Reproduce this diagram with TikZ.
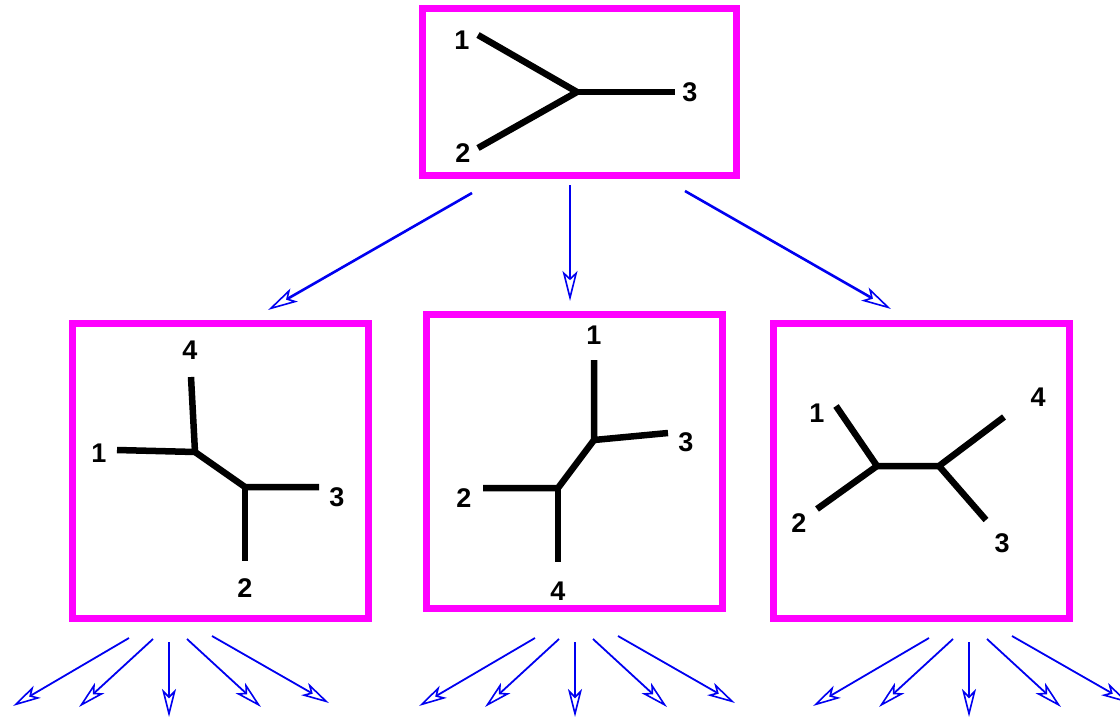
\documentclass[tikz,border=0pt]{standalone}
\usepackage{fontspec}
\setmainfont{Liberation Sans}
\usepackage{xcolor}
\usepackage{tikz}
\usetikzlibrary{arrows.meta,positioning,calc}

\definecolor{boxpink}{RGB}{255,0,255}
\definecolor{arrowblue}{RGB}{0,0,240}

\begin{document}
\begin{tikzpicture}[x=1pt,y=-1pt,
  treebox/.style={draw=boxpink,line width=7pt,rectangle,inner sep=0pt},
  branch/.style={draw=black,line width=6.5pt,line join=miter},
  leaf/.style={font=\fontsize{27}{32}\selectfont\bfseries},
  split/.style={draw=arrowblue,line width=2.6pt,-{Stealth[open,length=30pt,width=15pt,inset=7pt,line width=1.6pt]}},
  fan/.style={draw=arrowblue,line width=1.8pt,-{Stealth[open,length=28pt,width=14pt,inset=7pt,line width=1.6pt]}}]
\tikzstyle{every node}+=[inner sep=0pt]
\useasboundingbox (0,0) rectangle (1120,718);

% boxes
\node [treebox,minimum width=314pt,minimum height=166.5pt] (top) at (579.5,91.75) {};
\node [treebox,minimum width=296pt,minimum height=295pt] (left) at (220,470.5) {};
\node [treebox,minimum width=295.5pt,minimum height=293.5pt] (mid) at (574.25,461.25) {};
\node [treebox,minimum width=296pt,minimum height=295pt] (right) at (921,470.5) {};

% top tree
\coordinate (t-j) at (577,92);
\coordinate (t-1) at (478,35);
\coordinate (t-2) at (478,148);
\coordinate (t-3) at (675,92);
\draw [branch] (t-1) -- (t-j) -- (t-2);
\draw [branch] (t-j) -- (t-3);
\node [leaf] (t-n1) at (462,40) {1};
\node [leaf] (t-n2) at (463,153) {2};
\node [leaf] (t-n3) at (690,92) {3};

% left tree
\coordinate (l-a) at (195,452);
\coordinate (l-b) at (245,487);
\coordinate (l-1) at (117,450);
\coordinate (l-2) at (245,561);
\coordinate (l-3) at (319,487);
\coordinate (l-4) at (191,377);
\draw [branch] (l-1) -- (l-a) -- (l-4);
\draw [branch] (l-a) -- (l-b) -- (l-3);
\draw [branch] (l-b) -- (l-2);
\node [leaf] (l-n1) at (99,453) {1};
\node [leaf] (l-n2) at (245,588) {2};
\node [leaf] (l-n3) at (337,497) {3};
\node [leaf] (l-n4) at (190,350) {4};

% middle tree
\coordinate (m-a) at (594,440);
\coordinate (m-b) at (558,488);
\coordinate (m-1) at (594,360);
\coordinate (m-2) at (483,488);
\coordinate (m-3) at (668,433);
\coordinate (m-4) at (558,562);
\draw [branch] (m-1) -- (m-a) -- (m-3);
\draw [branch] (m-a) -- (m-b) -- (m-2);
\draw [branch] (m-b) -- (m-4);
\node [leaf] (m-n1) at (594,335) {1};
\node [leaf] (m-n2) at (464,498) {2};
\node [leaf] (m-n3) at (686,442) {3};
\node [leaf] (m-n4) at (558,591) {4};

% right tree
\coordinate (r-a) at (877,466);
\coordinate (r-b) at (939,466);
\coordinate (r-1) at (836,406);
\coordinate (r-2) at (817,509);
\coordinate (r-3) at (986,520);
\coordinate (r-4) at (1004,417);
\draw [branch] (r-1) -- (r-a) -- (r-2);
\draw [branch] (r-a) -- (r-b) -- (r-4);
\draw [branch] (r-b) -- (r-3);
\node [leaf] (r-n1) at (817,413) {1};
\node [leaf] (r-n2) at (799,523) {2};
\node [leaf] (r-n3) at (1002,543) {3};
\node [leaf] (r-n4) at (1038,397) {4};

% arrows from the top box
\coordinate (s-l) at (472,193);
\coordinate (e-l) at (268,310);
\coordinate (s-m) at (570,185);
\coordinate (e-m) at (570,301);
\coordinate (s-r) at (685,191);
\coordinate (e-r) at (891,309);
\draw [split] (s-l) -- (e-l);
\draw [split] (s-m) -- (e-m);
\draw [split] (s-r) -- (e-r);

% fans below the lower boxes
\foreach \g/\n in {169/l,575/m,969/r} {
  \foreach \i/\sx/\sy/\ex/\ey in {1/-40/638/-156/706,2/-16/639/-90/707,3/0/642/0/717,4/18/639/92/707,5/43/636/160/703} {
    \coordinate (fs-\n\i) at ({\g+\sx},\sy);
    \coordinate (fe-\n\i) at ({\g+\ex},\ey);
    \draw [fan] (fs-\n\i) -- (fe-\n\i);
  }
}
\end{tikzpicture}
\end{document}
